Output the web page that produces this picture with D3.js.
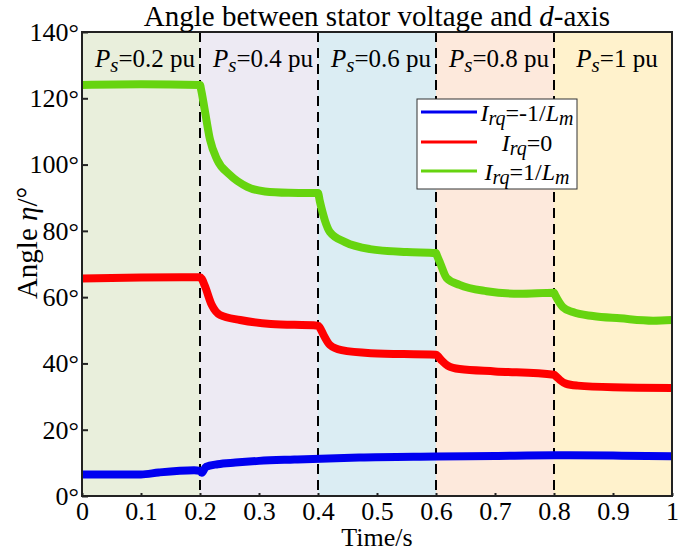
<!DOCTYPE html>
<html>
<head>
<meta charset="utf-8">
<script src="https://cdn.jsdelivr.net/npm/d3@7"></script>
<style>
  body { margin: 0; background: #fff; }
  text { font-family: "Liberation Serif", "Times New Roman", serif; fill: #000; }
</style>
</head>
<body>
<div id="chart"></div>
<script>
// power steps and their shading
const regionStarts = [0, 0.2, 0.4, 0.6, 0.8]
const regionEnds = [0.2, 0.4, 0.6, 0.8, 1.0]
const regionLabels = ['0.2 pu', '0.4 pu', '0.6 pu', '0.8 pu', '1 pu']
const regionColors = ['#e9efdc', '#edeaf3', '#dbedf3', '#fde9dc', '#fff2cc']

const xTicks = [0, 0.1, 0.2, 0.3, 0.4, 0.5, 0.6, 0.7, 0.8, 0.9, 1]
const yTicks = [0, 20, 40, 60, 80, 100, 120, 140]

// Irq = -1/Lm
const tBlue = [0, 0.1, 0.13, 0.19, 0.2, 0.203, 0.21, 0.23, 0.26, 0.3, 0.36, 0.47, 0.6, 0.7, 0.8, 0.9, 1.0]
const vBlue = [6.5, 6.5, 7.1, 7.8, 7.6, 7.0, 8.8, 9.6, 10.1, 10.6, 11.0, 11.6, 11.9, 12.1, 12.3, 12.2, 12.0]

// Irq = 0
const tRed = [0, 0.1, 0.2, 0.203, 0.208, 0.22, 0.234, 0.268, 0.32, 0.4, 0.403, 0.41, 0.42, 0.44, 0.49, 0.6, 0.603, 0.61, 0.62, 0.64, 0.7, 0.8, 0.803, 0.81, 0.82, 0.84, 0.9, 1.0]
const vRed = [65.6, 65.9, 66.0, 65.5, 63.5, 57.6, 54.6, 53.1, 51.9, 51.4, 50.8, 48.4, 45.6, 44.0, 43.1, 42.6, 42.2, 40.8, 39.3, 38.3, 37.6, 36.6, 36.2, 35.0, 33.9, 33.3, 32.8, 32.6]

// Irq = 1/Lm
const tGreen = [0, 0.1, 0.2, 0.202, 0.208, 0.217, 0.229, 0.25, 0.28, 0.31, 0.35, 0.4, 0.403, 0.412, 0.42, 0.446, 0.488, 0.55, 0.6, 0.602, 0.607, 0.618, 0.64, 0.686, 0.742, 0.8, 0.802, 0.815, 0.832, 0.866, 0.912, 0.968, 1.0]
const vGreen = [124.0, 124.2, 124.0, 122.5, 116.5, 107.5, 101.5, 97.0, 93.3, 91.9, 91.5, 91.4, 89.0, 83.0, 79.7, 76.6, 74.5, 73.6, 73.3, 72.4, 70.3, 65.8, 63.7, 61.8, 61.0, 61.3, 60.6, 57.0, 55.5, 54.3, 53.6, 52.9, 53.1]

const series = [
  { name: '-1/', sub: true, color: '#0000f0', t: tBlue, v: vBlue },
  { name: '0', sub: false, color: '#ff0000', t: tRed, v: vRed },
  { name: '1/', sub: true, color: '#66d40f', t: tGreen, v: vGreen }
]

const W = 693, H = 552
const mLeft = 82, mRight = 672, mTop = 32, mBottom = 496
const serif = '"Liberation Serif", "Times New Roman", serif'

const svg = d3.select('#chart').append('svg')
  .attr('width', W)
  .attr('height', H)

const x = d3.scaleLinear().domain([0, 1]).range([mLeft, mRight])
const y = d3.scaleLinear().domain([0, 140]).range([mBottom, mTop])

// shaded regions
svg.selectAll('rect.region')
  .data(regionStarts)
  .join('rect')
  .attr('class', 'region')
  .attr('x', d => x(d))
  .attr('y', mTop)
  .attr('width', (d, i) => x(regionEnds[i]) - x(d))
  .attr('height', mBottom - mTop)
  .attr('fill', (d, i) => regionColors[i])

// dashed separators
svg.selectAll('line.sep')
  .data(regionStarts.slice(1))
  .join('line')
  .attr('class', 'sep')
  .attr('x1', d => x(d)).attr('x2', d => x(d))
  .attr('y1', mTop).attr('y2', mBottom)
  .attr('stroke', '#000')
  .attr('stroke-width', 2)
  .attr('stroke-dasharray', '10,6')

// curves
let line = d3.line().curve(d3.curveMonotoneX)
series.forEach(s => {
  svg.append('path')
    .attr('d', line(s.t.map((t, i) => [x(t), y(s.v[i])])))
    .attr('fill', 'none')
    .attr('stroke', s.color)
    .attr('stroke-width', 8)
    .attr('stroke-linejoin', 'round')
})

// axes (inward ticks)
let fmtDeg = d => d + '\u00b0'
svg.append('g')
  .attr('transform', `translate(0,${mBottom})`)
  .call(d3.axisBottom(x).tickValues(xTicks).tickSize(-3).tickPadding(6).tickFormat(d => d))
  .call(g => g.select('.domain').remove())
  .attr('font-family', serif)
svg.append('g')
  .attr('transform', `translate(${mLeft},0)`)
  .call(d3.axisLeft(y).tickValues(yTicks).tickSize(-6).tickPadding(3).tickFormat(fmtDeg))
  .call(g => g.select('.domain').remove())
  .attr('font-family', serif)

svg.selectAll('.tick line').attr('stroke', '#222').attr('stroke-width', 2)
svg.selectAll('.tick text')
  .style('font-family', serif)
  .style('font-size', '26px')
  .attr('fill', '#000')

// frame
svg.append('rect')
  .attr('x', mLeft).attr('y', mTop)
  .attr('width', mRight - mLeft).attr('height', mBottom - mTop)
  .attr('fill', 'none')
  .attr('stroke', '#222')
  .attr('stroke-width', 2)

// region labels
regionStarts.forEach((d, i) => {
  let t = svg.append('text')
    .attr('x', (x(d) + x(regionEnds[i])) / 2 + 4)
    .attr('y', 67)
    .attr('text-anchor', 'middle')
    .style('font-size', '25px')
  t.append('tspan').attr('font-style', 'italic').text('P')
  t.append('tspan').attr('font-style', 'italic').attr('dy', 5).style('font-size', '21px').text('s')
  t.append('tspan').attr('dy', -5).text('=' + regionLabels[i])
})

// title and axis labels
let title = svg.append('text')
  .attr('x', (mLeft + mRight) / 2)
  .attr('y', 26)
  .attr('text-anchor', 'middle')
  .style('font-size', '29px')
title.append('tspan').text('Angle between stator voltage and ')
title.append('tspan').attr('font-style', 'italic').text('d')
title.append('tspan').text('-axis')

svg.append('text')
  .attr('x', (mLeft + mRight) / 2)
  .attr('y', 546)
  .attr('text-anchor', 'middle')
  .style('font-size', '26px')
  .text('Time/s')

let ylab = svg.append('text')
  .attr('transform', 'translate(37,243) rotate(-90)')
  .attr('text-anchor', 'middle')
  .style('font-size', '29px')
ylab.append('tspan').text('Angle ')
ylab.append('tspan').attr('font-style', 'italic').text('\u03b7')
ylab.append('tspan').text('/\u00b0')

// legend
let lg = svg.append('g')
lg.append('rect')
  .attr('x', 417).attr('y', 99)
  .attr('width', 160).attr('height', 90)
  .attr('fill', '#fff')
  .attr('stroke', '#333')
  .attr('stroke-width', 1)
let rowY = [112, 142, 171]
series.forEach((s, i) => {
  lg.append('line')
    .attr('x1', 421).attr('x2', 477)
    .attr('y1', rowY[i]).attr('y2', rowY[i])
    .attr('stroke', s.color)
    .attr('stroke-width', 3)
  let t = lg.append('text')
    .attr('x', 527)
    .attr('y', rowY[i] + 9)
    .attr('text-anchor', 'middle')
    .style('font-size', '24px')
  t.append('tspan').attr('font-style', 'italic').text('I')
  t.append('tspan').attr('font-style', 'italic').attr('dy', 4).style('font-size', '20px').text('rq')
  t.append('tspan').attr('dy', -4).text('=' + s.name)
  if (s.sub) {
    t.append('tspan').attr('font-style', 'italic').text('L')
    t.append('tspan').attr('font-style', 'italic').attr('dy', 4).style('font-size', '20px').text('m')
  }
})
</script>
</body>
</html>
